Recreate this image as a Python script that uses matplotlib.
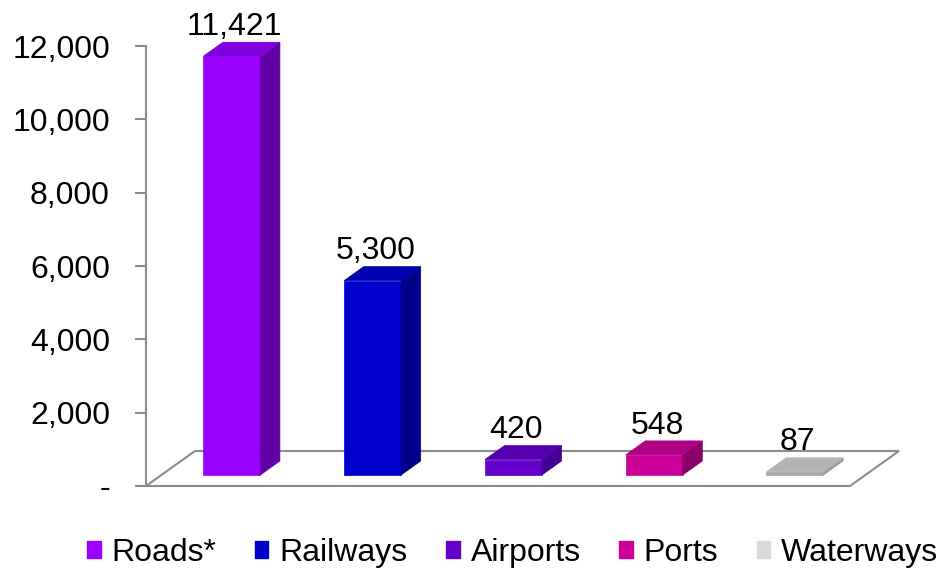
import matplotlib.pyplot as plt
from matplotlib.patches import Polygon, Patch
from matplotlib.ticker import FuncFormatter

plt.rcParams['font.family'] = ['Liberation Sans', 'DejaVu Sans']

modes = ['Roads*', 'Railways', 'Airports', 'Ports', 'Waterways']
values = [11421, 5300, 420, 548, 87]
labels = ['11,421', '5,300', '420', '548', '87']

# face colours: front, side, top, legend swatch
front_c = ['#9900ff', '#0000cc', '#6600cc', '#cc0099', '#a8a8a8']
side_c = ['#6000a6', '#000088', '#440090', '#8a0068', '#9a9a9a']
top_c = ['#8000e0', '#0000b0', '#5500b0', '#b00084', '#b4b4b4']
legend_c = ['#9900ff', '#0000cc', '#6600cc', '#cc0099', '#d9d9d9']

# fake 3d geometry (category units in x, value units in y)
DX, DY = 0.348, 955.0      # floor depth vector
f0, f1 = 0.314, 0.714      # bar front / back depth fraction
W = 0.405                  # bar width

fig = plt.figure(figsize=(9.41, 5.73), dpi=100)
ax = fig.add_axes([146 / 941, 87 / 573, 704 / 941, 440 / 573])
ax.set_xlim(-0.5, 4.5)
ax.set_ylim(0, 12000)

gray = '#8c8c8c'

# floor
floor = [(-0.5, 0), (4.5, 0), (4.5 + DX, DY), (-0.5 + DX, DY)]
ax.add_patch(Polygon(floor, closed=True, facecolor='white', edgecolor=gray,
                     linewidth=1.5, clip_on=False, zorder=1))

ddx, ddy = (f1 - f0) * DX, (f1 - f0) * DY
for i, v in enumerate(values):
    x0 = i - W / 2 + f0 * DX
    x1 = x0 + W
    y0 = f0 * DY
    top = y0 + v
    front = [(x0, y0), (x1, y0), (x1, top), (x0, top)]
    side = [(x1, y0), (x1 + ddx, y0 + ddy), (x1 + ddx, top + ddy), (x1, top)]
    lid = [(x0, top), (x1, top), (x1 + ddx, top + ddy), (x0 + ddx, top + ddy)]
    for pts, c in ((front, front_c[i]), (side, side_c[i]), (lid, top_c[i])):
        ax.add_patch(Polygon(pts, closed=True, facecolor=c, edgecolor=c,
                             linewidth=0.5, clip_on=False, zorder=3))
    ax.text((x0 + x1) / 2 + 0.02, top + ddy + 200, labels[i], ha='center',
            va='baseline', fontsize=23, color='black', zorder=4)

# value axis
for s in ['top', 'right', 'bottom']:
    ax.spines[s].set_visible(False)
ax.spines['left'].set_color(gray)
ax.spines['left'].set_linewidth(1.5)
ax.set_xticks([])
ax.set_yticks(range(0, 12001, 2000))
ax.yaxis.set_major_formatter(FuncFormatter(lambda y, p: '-' if y == 0 else f'{int(y):,}'))
ax.tick_params(axis='y', length=8, width=1.5, color=gray, pad=18,
               labelsize=23, labelcolor='black')

handles = [Patch(facecolor=c, edgecolor=c) for c in legend_c]
fig.legend(handles, modes, loc='center', bbox_to_anchor=(0.545, 0.035),
           ncol=5, frameon=False, fontsize=23, handlelength=0.42,
           handleheight=0.42, handletextpad=0.35, columnspacing=1.2,
           borderaxespad=0)

fig.savefig('out.png', dpi=100)
